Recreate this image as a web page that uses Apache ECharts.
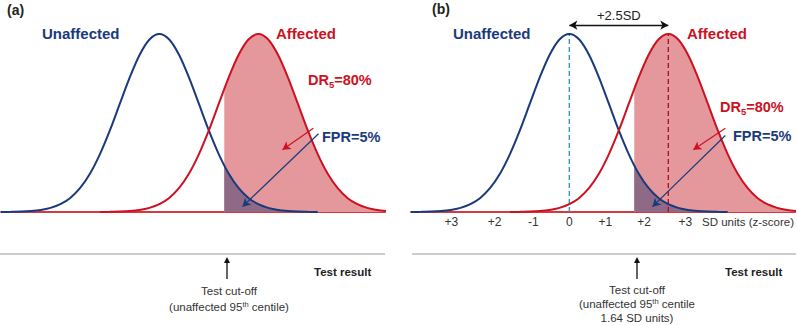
<!DOCTYPE html>
<html>
<head>
<meta charset="UTF-8">
<title>Screening test distributions</title>
<script src="https://cdn.jsdelivr.net/npm/echarts@6/dist/echarts.min.js"></script>
<style>
	html, body { margin: 0; padding: 0; background: #fff; }
	#chart { width: 797px; height: 325px; }
</style>
</head>
<body>
<div id="chart"></div>
<script>
// offsets from each distribution's mean (SD units) and curve height (peak = 100)
var curveOffsets = [-4, -3.75, -3.5, -3.25, -3, -2.75, -2.5, -2.25, -2, -1.75, -1.5, -1.25, -1, -0.75, -0.5, -0.25,
	0, 0.25, 0.5, 0.75, 1, 1.25, 1.5, 1.75, 2, 2.25, 2.5, 2.75, 3, 3.25, 3.5, 3.75, 4];
var curveHeights = [0.03, 0.09, 0.22, 0.51, 1.1, 2.3, 4.4, 7.9, 13.5, 21.6, 32.5, 45.8, 60.7, 75.5, 88.2, 96.9,
	100, 96.9, 88.2, 75.5, 60.7, 45.8, 32.5, 21.6, 13.5, 7.9, 4.4, 2.3, 1.1, 0.51, 0.22, 0.09, 0.03];
var unaffectedMean = 0;
var affectedMean = 2.5;
var cutoffZ = 1.64;
var cutoffHeightUnaffected = 26;
var cutoffHeightAffected = 69;
// panel (b) tick labels, as printed
var tickPos = [-2.98, -1.89, -0.91, 0, 0.91, 1.89, 2.93];
var tickLabels = ['+3', '+2', '-1', '0', '+1', '+2', '+3'];

var NAVY = '#1a3a7c', RED = '#cc1122', PINK = '#e5989b', PURPLE = '#8e6a86';
var FONT = 'Liberation Sans';

function curve(mean){
	return curveOffsets.map(function(o, i){ return [mean + o, curveHeights[i]]; });
}
function tail(mean, hCut){
	var pts = [[cutoffZ, hCut]];
	curveOffsets.forEach(function(o, i){
		if (mean + o > cutoffZ) pts.push([mean + o, curveHeights[i]]);
	});
	return pts;
}
function arrowLine(g, from, to, color){
	return {
		type: 'line', xAxisIndex: g, yAxisIndex: g, data: [], silent: true,
		markLine: {
			silent: true, symbol: ['none', 'arrow'], symbolSize: [7, 8],
			lineStyle: { color: color, width: 1.2, type: 'solid' },
			label: { show: false },
			data: [[{ coord: from }, { coord: to }]]
		}
	};
}

var series = [];
[0, 1].forEach(function(g){
	series.push({
		type: 'line', xAxisIndex: g, yAxisIndex: g, smooth: 0.3, symbol: 'none', silent: true,
		data: tail(affectedMean, cutoffHeightAffected),
		lineStyle: { width: 0 }, areaStyle: { color: PINK, opacity: 1 }
	});
	series.push({
		type: 'line', xAxisIndex: g, yAxisIndex: g, smooth: 0.3, symbol: 'none', silent: true,
		data: tail(unaffectedMean, cutoffHeightUnaffected),
		lineStyle: { width: 0 }, areaStyle: { color: PURPLE, opacity: 1 }
	});
	if (g == 1) {
		series.push({
			type: 'line', xAxisIndex: g, yAxisIndex: g, symbol: 'none', silent: true,
			data: [[unaffectedMean, 0], [unaffectedMean, 100]],
			lineStyle: { color: '#2f95c0', width: 1.4, type: [5, 3] }
		});
		series.push({
			type: 'line', xAxisIndex: g, yAxisIndex: g, symbol: 'none', silent: true,
			data: [[affectedMean, 0], [affectedMean, 100]],
			lineStyle: { color: '#b01322', width: 1.4, type: [5, 3] }
		});
	}
	series.push({
		type: 'line', xAxisIndex: g, yAxisIndex: g, smooth: 0.3, symbol: 'none', silent: true,
		data: curve(unaffectedMean), lineStyle: { color: NAVY, width: 2 }
	});
	series.push({
		type: 'line', xAxisIndex: g, yAxisIndex: g, smooth: 0.3, symbol: 'none', silent: true,
		data: curve(affectedMean), lineStyle: { color: RED, width: 2 }
	});
	if (g == 0) {
		series.push(arrowLine(g, [3.89, 47], [3.11, 35], RED));
		series.push(arrowLine(g, [4.02, 44], [2.1, 3], NAVY));
	} else {
		series.push(arrowLine(g, [3.94, 47], [3.13, 35], RED));
		series.push(arrowLine(g, [3.94, 43], [2.1, 3], NAVY));
		series.push({
			type: 'line', xAxisIndex: g, yAxisIndex: g, data: [], silent: true,
			markLine: {
				silent: true, symbol: ['arrow', 'arrow'], symbolSize: [7, 8],
				lineStyle: { color: '#111', width: 1.3, type: 'solid' },
				label: { show: true, position: 'middle', formatter: '+2.5SD', color: '#222',
					fontFamily: FONT, fontSize: 13, distance: 3 },
				data: [[{ coord: [unaffectedMean, 105] }, { coord: [affectedMean, 105] }]]
			}
		});
	}
});

function xAxis(g){
	var ax = {
		type: 'value', gridIndex: g, min: -4, max: 5.7,
		axisLine: { show: true, lineStyle: { color: '#d63a3f', width: 2 } },
		axisTick: { show: false }, splitLine: { show: false },
		axisLabel: { show: false }
	};
	if (g == 1) {
		ax.axisLabel = {
			show: true, customValues: tickPos, margin: 4,
			color: '#333', fontFamily: FONT, fontSize: 12,
			formatter: function(v){
				var i = tickPos.indexOf(v);
				return i < 0 ? '' : tickLabels[i];
			}
		};
	}
	return ax;
}
function yAxis(g){
	return { type: 'value', gridIndex: g, min: 0, max: 118, show: false };
}

function txt(x, y, text, size, color, bold, align){
	return {
		type: 'text', x: x, y: y, silent: true,
		style: { text: text, fill: color, fontFamily: FONT, fontSize: size,
			fontWeight: bold ? 'bold' : 'normal', align: align || 'left', verticalAlign: 'middle' }
	};
}
function rate(x, y, color, main, sub, rest){
	return {
		type: 'text', x: x, y: y, silent: true,
		style: {
			text: '{m|' + main + '}' + (sub ? '{s|' + sub + '}' : '') + '{m|' + rest + '}',
			fill: color, verticalAlign: 'middle',
			rich: {
				m: { fontFamily: FONT, fontSize: 14.5, fontWeight: 'bold', fill: color, lineHeight: 18 },
				s: { fontFamily: FONT, fontSize: 9.5, fontWeight: 'bold', fill: color, verticalAlign: 'bottom' }
			}
		}
	};
}
function centile(x, y, close){
	return {
		type: 'text', x: x, y: y, silent: true,
		style: {
			text: '{m|(unaffected 95}{s|th}{m| centile' + (close ? ')' : '') + '}',
			align: 'center', verticalAlign: 'middle',
			rich: {
				m: { fontFamily: FONT, fontSize: 11.5, fill: '#333', lineHeight: 14 },
				s: { fontFamily: FONT, fontSize: 7.5, fill: '#333', verticalAlign: 'top' }
			}
		}
	};
}
function upArrow(x){
	return [
		{ type: 'line', silent: true, shape: { x1: x, y1: 279, x2: x, y2: 262 }, style: { stroke: '#111', lineWidth: 1.3 } },
		{ type: 'polygon', silent: true, shape: { points: [[x - 3, 263], [x + 3, 263], [x, 257]] }, style: { fill: '#111' } }
	];
}

var graphics = [
	txt(7, 10, '(a)', 14, '#222', true),
	txt(432, 9, '(b)', 14, '#222', true),
	txt(42, 33, 'Unaffected', 15, NAVY, true),
	txt(276, 33, 'Affected', 15, RED, true),
	txt(453, 33, 'Unaffected', 15, NAVY, true),
	txt(687, 33, 'Affected', 15, RED, true),
	rate(308, 80, RED, 'DR', '5', '=80%'),
	rate(322, 137, NAVY, 'FPR=5%', '', ''),
	rate(720, 107, RED, 'DR', '5', '=80%'),
	rate(733, 136, NAVY, 'FPR=5%', '', ''),
	txt(794, 222, 'SD units (z-score)', 11.5, '#333', false, 'right'),
	{ type: 'line', silent: true, shape: { x1: 0, y1: 254, x2: 385, y2: 254 }, style: { stroke: '#bdbdbd', lineWidth: 1.5 } },
	{ type: 'line', silent: true, shape: { x1: 412, y1: 254, x2: 796, y2: 254 }, style: { stroke: '#bdbdbd', lineWidth: 1.5 } },
	txt(314, 272, 'Test result', 11.5, '#222', true),
	txt(725, 272, 'Test result', 11.5, '#222', true),
	txt(229, 291, 'Test cut-off', 11.5, '#333', false, 'center'),
	centile(229, 307, true),
	txt(637, 290, 'Test cut-off', 11.5, '#333', false, 'center'),
	centile(637, 304, false),
	txt(637, 318, '1.64 SD units)', 11.5, '#333', false, 'center')
].concat(upArrow(227), upArrow(637));

var chart = echarts.init(document.getElementById('chart'), null, { renderer: 'svg' });
chart.setOption({
	animation: false,
	backgroundColor: '#fff',
	grid: [
		{ left: 1, top: 2, width: 384, height: 210 },
		{ left: 411, top: 2, width: 384, height: 210 }
	],
	xAxis: [xAxis(0), xAxis(1)],
	yAxis: [yAxis(0), yAxis(1)],
	series: series,
	graphic: graphics
});
</script>
</body>
</html>
